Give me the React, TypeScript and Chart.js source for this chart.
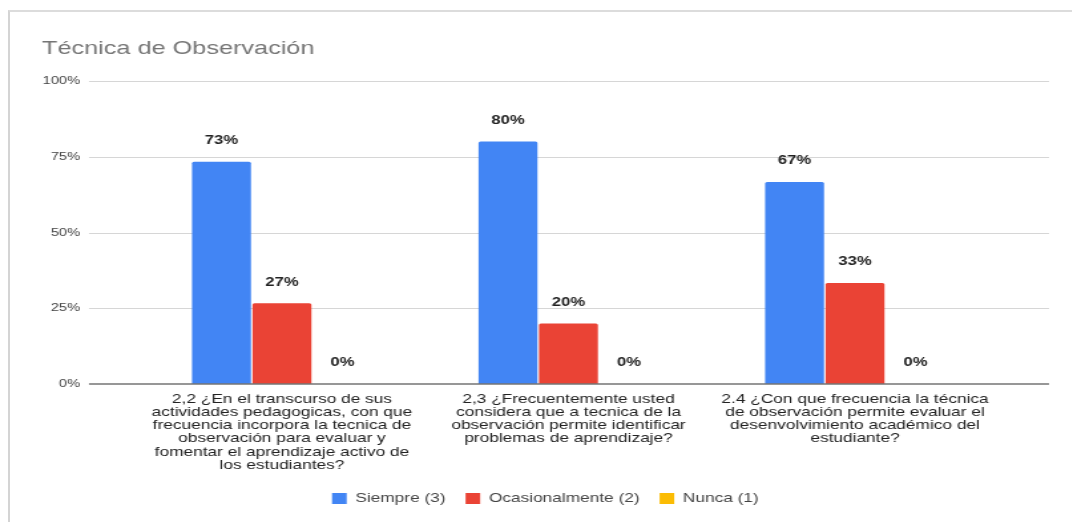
import React, { useEffect, useRef } from 'react';
import { Chart, registerables } from 'chart.js';

Chart.register(...registerables);

// ---- data ----
const chartTitle = 'Técnica de Observación';
const categories: string[][] = [
  [
    '2,2 ¿En el transcurso de sus',
    'actividades pedagogicas, con que',
    'frecuencia incorpora la tecnica de',
    'observación para evaluar y',
    'fomentar el aprendizaje activo de',
    'los estudiantes?',
  ],
  [
    '2,3 ¿Frecuentemente usted',
    'considera que a tecnica de la',
    'observación permite identificar',
    'problemas de aprendizaje?',
  ],
  [
    '2.4 ¿Con que frecuencia la técnica',
    'de observación permite evaluar el',
    'desenvolvimiento académico del',
    'estudiante?',
  ],
];
const seriesNames = ['Siempre (3)', 'Ocasionalmente (2)', 'Nunca (1)'];
const siempre = [73.33, 80, 66.67];
const ocasionalmente = [26.67, 20, 33.33];
const nunca = [0, 0, 0];
const yTickValues = [0, 25, 50, 75, 100];

// ---- styles ----
const seriesColors = ['#4285F4', '#EA4335', '#FBBC04'];
const FONT = "'Liberation Sans', Arial, Helvetica, sans-serif";
const W = 807;
const H = 522;
const SX = 1073 / W;

const gridPlugin = {
  id: 'extGrid',
  afterLayout(chart: any) {
    const lg = chart.legend;
    if (lg) {
      lg.left += 34.8;
      lg.right += 34.8;
    }
  },
  beforeDatasetsDraw(chart: any) {
    const { ctx, chartArea, scales } = chart;
    const y = scales.y;
    const x1 = chartArea.left - 37.4;
    const x2 = chartArea.right + 38.2;
    ctx.save();
    ctx.strokeStyle = '#d6d6d6';
    ctx.lineWidth = 1;
    yTickValues.forEach((v) => {
      if (v === 0) return;
      const py = Math.round(y.getPixelForValue(v)) + 0.5;
      ctx.beginPath();
      ctx.moveTo(x1, py);
      ctx.lineTo(x2, py);
      ctx.stroke();
    });
    ctx.restore();
  },
  afterDatasetsDraw(chart: any) {
    const { ctx, chartArea, scales } = chart;
    const y = scales.y;
    const x1 = chartArea.left - 37.4;
    const x2 = chartArea.right + 38.2;
    ctx.save();
    ctx.strokeStyle = '#757575';
    ctx.lineWidth = 1.6;
    const py = y.getPixelForValue(0);
    ctx.beginPath();
    ctx.moveTo(x1, py);
    ctx.lineTo(x2, py);
    ctx.stroke();

    // value labels
    ctx.fillStyle = '#222222';
    ctx.font = `bold 12.5px ${FONT}`;
    ctx.textAlign = 'center';
    ctx.textBaseline = 'middle';
    chart.data.datasets.forEach((ds: any, di: number) => {
      const meta = chart.getDatasetMeta(di);
      meta.data.forEach((el: any, i: number) => {
        const v = ds.data[i];
        ctx.fillText(`${Math.round(v)}%`, el.x, el.y - 21);
      });
    });

    // title
    ctx.fillStyle = '#757575';
    ctx.font = `19px ${FONT}`;
    ctx.textAlign = 'left';
    ctx.textBaseline = 'alphabetic';
    ctx.fillText(chartTitle, 31.6, 54.3);
    ctx.restore();
  },
};

export default function App() {
  const ref = useRef<HTMLCanvasElement | null>(null);

  useEffect(() => {
    if (!ref.current) return;
    const chart = new Chart(ref.current, {
      type: 'bar',
      data: {
        labels: categories as any,
        datasets: [siempre, ocasionalmente, nunca].map((d, i) => ({
          label: seriesNames[i],
          data: d,
          backgroundColor: seriesColors[i],
          borderWidth: 0,
          borderRadius: 1.5,
          categoryPercentage: 0.633,
          barPercentage: 0.975,
        })),
      },
      options: {
        animation: false,
        responsive: true,
        maintainAspectRatio: false,
        devicePixelRatio: 1,
        layout: { padding: { top: 81, left: 0, right: 56.2, bottom: 7 } },
        plugins: {
          title: { display: false },
          tooltip: { enabled: false },
          legend: {
            display: true,
            position: 'bottom',
            align: 'center',
            labels: {
              boxWidth: 11,
              boxHeight: 11,
              padding: 15,
              color: '#444444',
              font: { family: FONT, size: 13 },
            },
          },
        },
        scales: {
          x: {
            offset: true,
            grid: { display: false, drawTicks: false },
            border: { display: false },
            ticks: {
              autoSkip: false,
              maxRotation: 0,
              minRotation: 0,
              padding: 8.3,
              color: '#222222',
              font: { family: FONT, size: 13, lineHeight: 1.02 },
            },
            afterFit: (s: any) => {
              s.height = 93;
            },
          },
          y: {
            min: 0,
            max: 100,
            grid: { display: false, drawTicks: false },
            border: { display: false },
            ticks: {
              stepSize: 25,
              padding: 44.1,
              color: '#444444',
              font: { family: FONT, size: 11 },
              callback: (v: any) => `${v}%`,
            },
            afterFit: (s: any) => {
              s.width = 104.3;
            },
          },
        },
      },
      plugins: [gridPlugin],
    });
    return () => chart.destroy();
  }, []);

  return (
    <div style={{ background: '#ffffff' }}>
      <div
        style={{
          position: 'absolute',
          left: 8,
          top: 10,
          width: 1064,
          height: 512,
          boxSizing: 'border-box',
          borderTop: '2px solid #dcdcdc',
          borderLeft: '2px solid #d4d4d4',
        }}
      />
      <div
        style={{
          position: 'absolute',
          left: 0,
          top: 0,
          width: W,
          height: H,
          transform: `scaleX(${SX})`,
          transformOrigin: '0 0',
        }}
      >
        <canvas ref={ref} />
      </div>
    </div>
  );
}
